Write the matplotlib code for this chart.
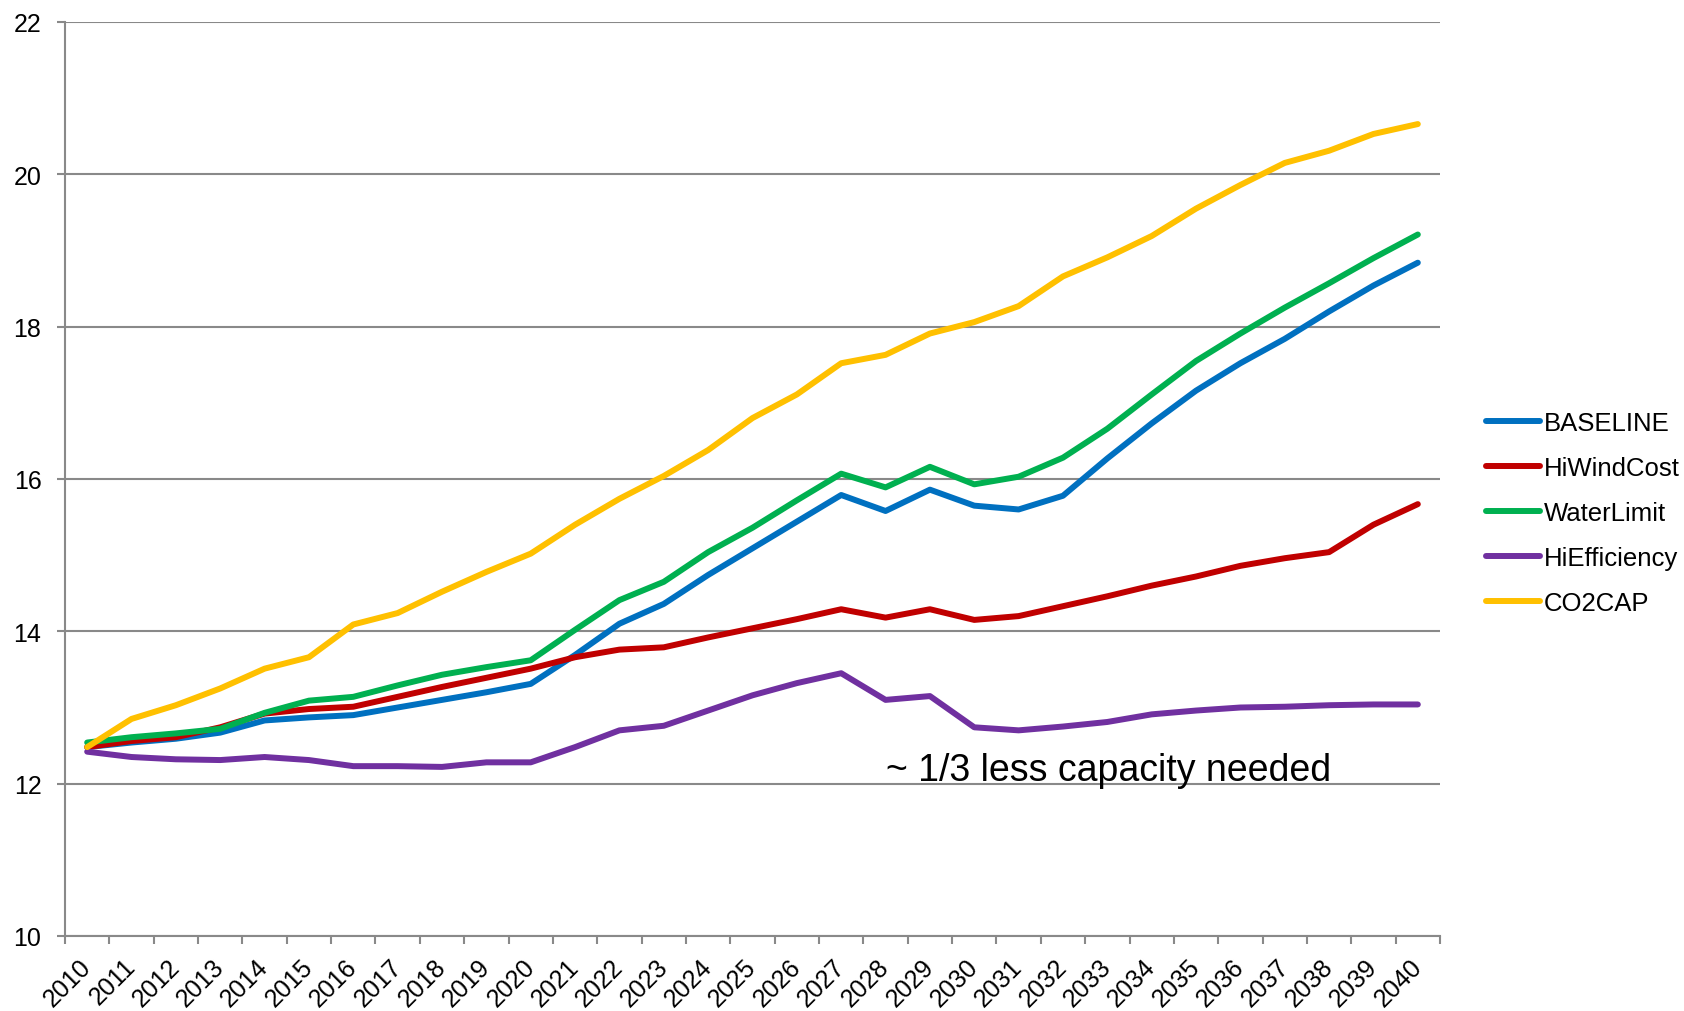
import numpy as np
import matplotlib
matplotlib.use("Agg")
import matplotlib.pyplot as plt

plt.rcParams['font.family'] = ['Liberation Sans', 'DejaVu Sans']

#-----------------------------------------------------#
# data

years = [str(y) for y in range(2010, 2041)]

baseline = [12.48, 12.54, 12.59, 12.67, 12.83, 12.87, 12.90, 13.00, 13.10, 13.20,
            13.31, 13.69, 14.10, 14.36, 14.74, 15.09, 15.44, 15.79, 15.58, 15.86,
            15.65, 15.60, 15.78, 16.27, 16.73, 17.16, 17.52, 17.84, 18.20, 18.54,
            18.84]
hiwindcost = [12.48, 12.56, 12.61, 12.74, 12.92, 12.98, 13.01, 13.14, 13.27, 13.39,
              13.51, 13.66, 13.76, 13.79, 13.92, 14.04, 14.16, 14.29, 14.18, 14.29,
              14.15, 14.20, 14.33, 14.46, 14.60, 14.72, 14.86, 14.96, 15.04, 15.40,
              15.67]
waterlimit = [12.54, 12.61, 12.66, 12.72, 12.93, 13.09, 13.14, 13.29, 13.43, 13.53,
              13.62, 14.02, 14.41, 14.65, 15.04, 15.36, 15.72, 16.07, 15.89, 16.16,
              15.93, 16.03, 16.28, 16.66, 17.11, 17.55, 17.91, 18.25, 18.57, 18.90,
              19.21]
hiefficiency = [12.42, 12.35, 12.32, 12.31, 12.35, 12.31, 12.23, 12.23, 12.22, 12.28,
                12.28, 12.48, 12.70, 12.76, 12.96, 13.16, 13.32, 13.45, 13.10, 13.15,
                12.74, 12.70, 12.75, 12.81, 12.91, 12.96, 13.00, 13.01, 13.03, 13.04,
                13.04]
co2cap = [12.48, 12.85, 13.03, 13.25, 13.51, 13.66, 14.09, 14.24, 14.52, 14.78,
          15.02, 15.40, 15.74, 16.04, 16.38, 16.80, 17.11, 17.52, 17.63, 17.91,
          18.06, 18.27, 18.66, 18.91, 19.19, 19.55, 19.86, 20.15, 20.31, 20.53,
          20.66]

series_names = ["BASELINE", "HiWindCost", "WaterLimit", "HiEfficiency", "CO2CAP"]
series_values = [baseline, hiwindcost, waterlimit, hiefficiency, co2cap]
series_colors = ["#0070C0", "#C00000", "#00B050", "#7030A0", "#FFC000"]

note_text = "~ 1/3 less capacity needed"

#-----------------------------------------------------#

fig = plt.figure(figsize=(16.84, 10.12), dpi=100)
ax = fig.add_axes([65/1684, 1 - 937/1012, (1440 - 65)/1684, (937 - 23)/1012])

x = np.arange(len(years))
for name, vals, col in zip(series_names, series_values, series_colors):
    ax.plot(x, vals, color=col, linewidth=4.3, label=name, solid_capstyle='round')

gridcol = "#898989"
ax.set_ylim(10, 22)
ax.set_yticks(np.arange(10, 23, 2))
ax.grid(axis='y', color=gridcol, linewidth=1.5)
ax.set_axisbelow(True)

ax.set_xlim(-0.5, len(years) - 0.5)
ax.set_xticks(np.arange(-0.5, len(years), 1.0))
ax.set_xticklabels([])
ax.set_xticks(x, minor=True)
ax.set_xticklabels(years, minor=True, rotation=45, ha='right', va='center',
                   rotation_mode='anchor', fontsize=18)
ax.tick_params(axis='x', which='minor', length=0, pad=19)
ax.tick_params(axis='x', which='major', length=6, width=1.5, color=gridcol)
ax.tick_params(axis='y', length=6, width=1.5, color=gridcol, labelsize=18, pad=11)

for s in ['top', 'right']:
    ax.spines[s].set_visible(False)
for s in ['left', 'bottom']:
    ax.spines[s].set_color(gridcol)
    ax.spines[s].set_linewidth(1.5)

ax.text(18.0, 12.18, note_text, fontsize=27, va='center', ha='left')

fig.legend(loc='center left', bbox_to_anchor=(1476/1684, 1 - 514/1012),
           frameon=False, fontsize=18.5, handlelength=2.1, handletextpad=0.15,
           labelspacing=0.82, borderaxespad=0)

fig.savefig("out.png", dpi=100)
